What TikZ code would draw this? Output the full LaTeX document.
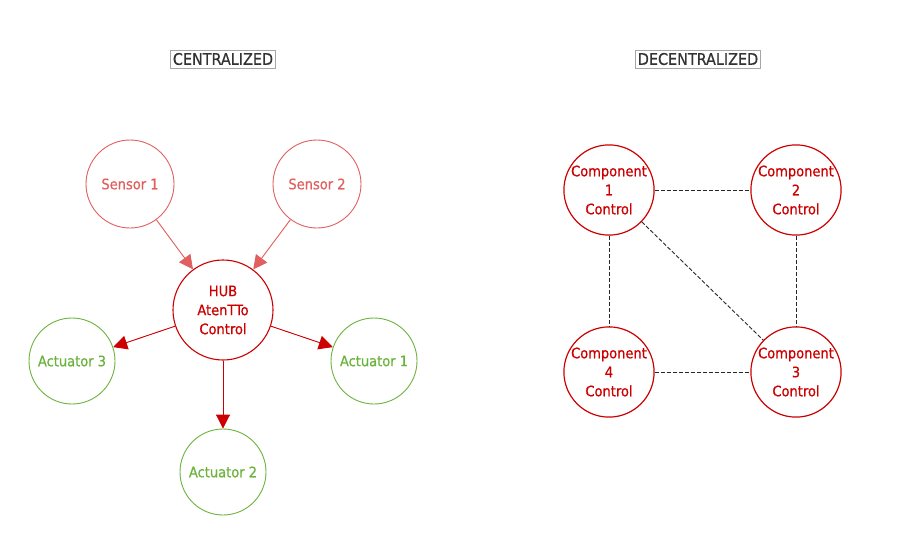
\documentclass[tikz,border=0pt]{standalone}
\usepackage{fontspec}
\setmainfont{DejaVu Sans Condensed}[BoldFont={DejaVu Sans Condensed},BoldFeatures={FakeBold=0.6}]
\usetikzlibrary{arrows.meta}
\definecolor{lred}{HTML}{E06060}
\definecolor{dred}{HTML}{CC0000}
\definecolor{grn}{HTML}{6CB33E}
\definecolor{ttl}{HTML}{333333}
\tikzset{
  circ/.style={circle,draw,line width=0.9pt,inner sep=0pt,align=center,font=\fontsize{14.5}{19}\selectfont\bfseries},
  sensor/.style={circ,draw=lred,text=lred,minimum size=88pt},
  hub/.style={circ,draw=dred,text=dred,minimum size=100pt,line width=1.1pt},
  act/.style={circ,draw=grn,text=grn,minimum size=86pt},
  comp/.style={circ,draw=dred,text=dred,minimum size=84pt,line width=1.2pt},
  title/.style={draw=gray!70,line width=0.6pt,text=ttl,inner xsep=2.5pt,inner ysep=3pt,font=\fontsize{16}{18}\selectfont\bfseries},
  sarrow/.style={draw=lred,line width=0.9pt,-{Triangle[length=14pt,width=14pt]},fill=lred},
  harrow/.style={draw=dred,line width=0.9pt,-{Triangle[length=14pt,width=14pt]},fill=dred},
  link/.style={draw=black!85,line width=0.9pt,dashed,dash pattern=on 4pt off 2pt}
}
\begin{document}
\begin{tikzpicture}[x=1pt,y=-1pt]
\useasboundingbox (0,0) rectangle (899,536);
\node[title] (t1) at (223,59) {CENTRALIZED};
\node[title] (t2) at (698,59) {DECENTRALIZED};
% centralized
\node[sensor] (s1) at (130,184) {Sensor 1};
\node[sensor] (s2) at (317,184) {Sensor 2};
\node[hub] (hub) at (223,310) {HUB\\AtenTTo\\Control};
\node[act] (a3) at (72,361) {Actuator 3};
\node[act] (a1) at (374,361) {Actuator 1};
\node[act] (a2) at (223,472) {Actuator 2};
\draw[sarrow] (s1) -- (hub);
\draw[sarrow] (s2) -- (hub);
\draw[harrow] (hub) -- (a3);
\draw[harrow] (hub) -- (a1);
\draw[harrow] (hub) -- (a2);
% decentralized
\node[comp] (c1) at (609,190) {Component\\1\\Control};
\node[comp] (c2) at (796,190) {Component\\2\\Control};
\node[comp] (c4) at (609,372) {Component\\4\\Control};
\node[comp] (c3) at (796,372) {Component\\3\\Control};
\draw[link] (c1) -- (c2);
\draw[link] (c1) -- (c4);
\draw[link] (c2) -- (c3);
\draw[link] (c4) -- (c3);
\draw[link] (c1) -- (c3);
\end{tikzpicture}
\end{document}
